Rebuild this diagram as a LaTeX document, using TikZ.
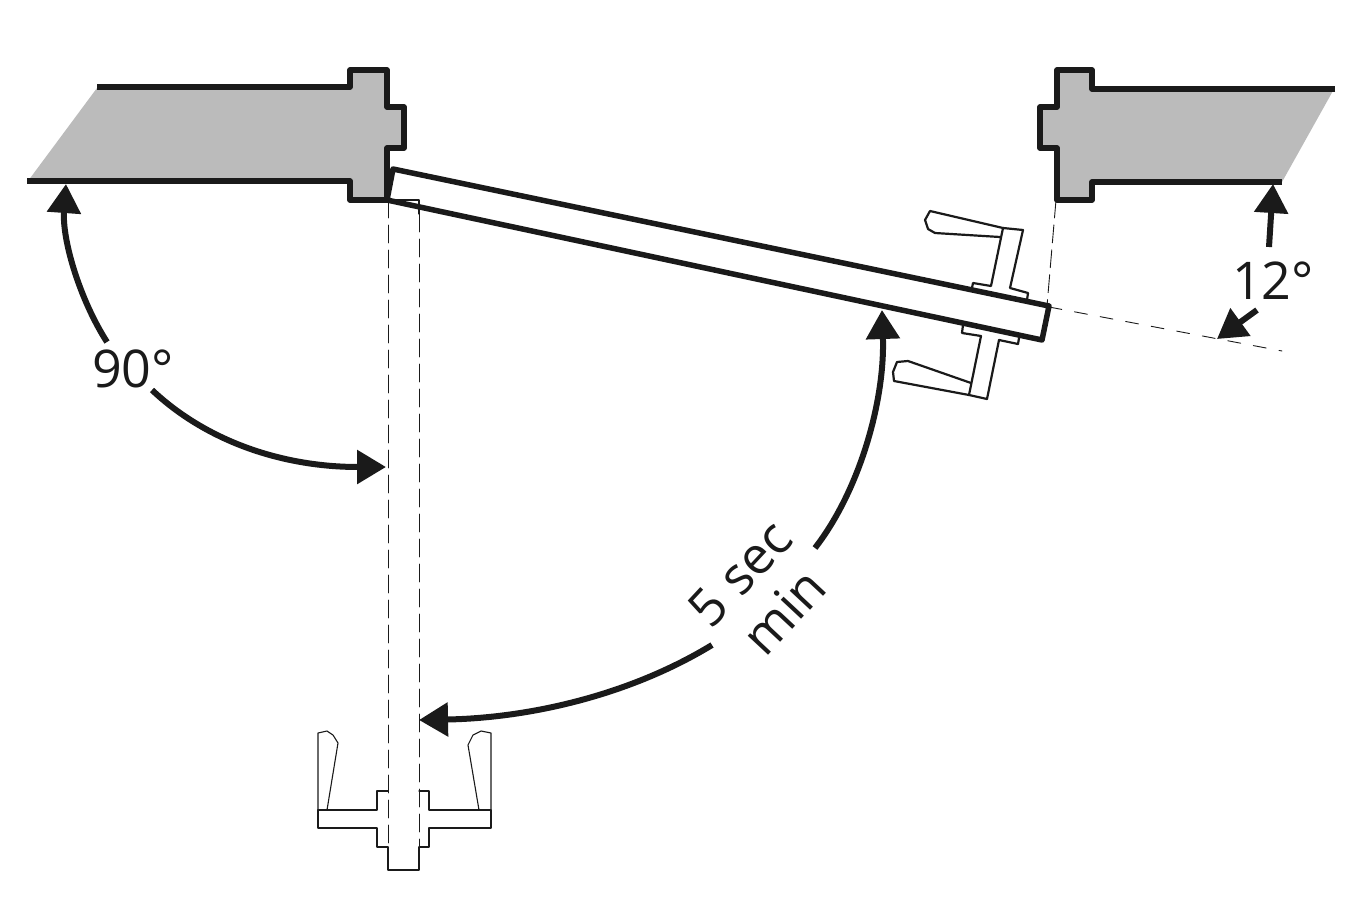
\documentclass[tikz,border=0pt]{standalone}
\usepackage{fontspec}
\setmainfont{Open Sans}
\usepackage{xcolor}
\usetikzlibrary{arrows.meta}
\definecolor{wall-grey}{HTML}{BBBBBB}
\definecolor{ink-black}{HTML}{1A1A1A}
\tikzset{
    wall/.style={line width=5.5pt, color=ink-black},
    leaf/.style={line width=5.5pt, color=ink-black},
    thinline/.style={line width=1.1pt, color=ink-black},
    handle/.style={line width=2.2pt, color=ink-black},
    ghost/.style={line width=0.9pt, color=ink-black, dash pattern=on 18pt off 7pt},
    ghostext/.style={line width=0.9pt, color=ink-black, dash pattern=on 13pt off 13pt},
    sweep/.style={line width=6pt, color=ink-black, line cap=butt, -{Triangle[length=29pt,width=33pt]}},
    lbl/.style={inner sep=0pt, color=ink-black, font=\fontsize{52}{56}\selectfont}
}
\begin{document}
\begin{tikzpicture}[x=1pt, y=-1pt, line cap=round, line join=round]
    % frame
    \useasboundingbox (0,0) rectangle (1350,900);

    % left wall
    \fill[wall-grey] (97,88) -- (350,88) -- (350,70) -- (387,70) -- (387,107) -- (404,107) -- (404,148) -- (387,148)
    -- (387,200) -- (350,200) -- (350,181) -- (28,181) -- cycle;
    \draw[wall, line cap=butt] (97,87) -- (350,87) -- (350,70) -- (387,70) -- (387,107) -- (404,107) -- (404,148) -- (387,148)
    -- (387,200) -- (350,200) -- (350,181) -- (27,181);

    % right wall
    \fill[wall-grey] (1334,89) -- (1092,89) -- (1092,70) -- (1057,70) -- (1057,107) -- (1040,107) -- (1040,148) -- (1057,148)
    -- (1057,200) -- (1092,200) -- (1092,182) -- (1282,182) -- cycle;
    \draw[wall, line cap=butt] (1335,89) -- (1092,89) -- (1092,70) -- (1057,70) -- (1057,107) -- (1040,107) -- (1040,148) -- (1057,148)
    -- (1057,200) -- (1092,200) -- (1092,182) -- (1282,182);

    % open door
    \draw[leaf] (393,169) -- (1049,306) -- (1042,340) -- (387,200) -- cycle;

    % handle on the open door
    \draw[handle] (972,288) -- (973,283) -- (991,286) -- (1003,228) -- (930,211) -- (925,220) -- (928,229) -- (935,233) -- (1000,237);
    \draw[handle] (1003,228) -- (1023,230) -- (1010,288) -- (1028,293) -- (1027,300);
    \draw[handle] (963,325) -- (962,333) -- (981,336) -- (969,395) -- (987,399) -- (999,340) -- (1018,344) -- (1019,338);
    \draw[handle] (971,383) -- (908,361) -- (897,362) -- (893,372) -- (894,381) -- (969,395);

    % closed door
    \draw[ghost] (388,200) -- (388,847);
    \draw[ghost] (419,214) -- (419,847);
    \draw[thinline] (388,200) -- (419,200) -- (419,214);
    \draw[thinline] (388,847) -- (388,870) -- (419,870) -- (419,847);

    % handle on the closed door
    \draw[thinline] (388,791) -- (377,791) -- (377,810) -- (318,810) -- (318,828) -- (377,828) -- (377,847) -- (388,847);
    \draw[thinline] (419,791) -- (429,791) -- (429,810) -- (491,810) -- (491,828) -- (429,828) -- (429,847) -- (419,847);
    \draw[thinline] (318,810) -- (318,733) -- (327,731) -- (333,735) -- (338,743) -- (327,810);
    \draw[thinline] (491,810) -- (491,733) -- (481,731) -- (473,735) -- (468,745) -- (479,810);

    % extension lines
    \draw[ghost] (1056,200) -- (1047,306);
    \draw[ghostext] (1049,307) -- (1282,351);

    % labels
    \node[lbl] (label90) at (133,369) {90°};
    \node[lbl] (label12) at (1273,281) {12°};
    \node[lbl, rotate=47] (label5sec) at (740,573) {5 sec};
    \node[lbl, rotate=47] (labelmin) at (783,611) {min};

    % free ends
    \coordinate (wallleft) at (66,184);
    \coordinate (closedmid) at (386,467);
    \coordinate (leafmid) at (882,310);
    \coordinate (closedlow) at (419,720);
    \coordinate (wallright) at (1273,184);
    \coordinate (leafext) at (1217,339);

    % sweeps
    \draw[sweep] (107,342) .. controls (80,300) and (62,240) .. (wallleft);
    \draw[sweep] (152,390) .. controls (205,440) and (280,467) .. (closedmid);
    \draw[sweep] (815,548) .. controls (860,490) and (885,400) .. (leafmid);
    \draw[sweep] (712,645) .. controls (630,695) and (530,718) .. (closedlow);
    \draw[sweep] (1269,247) -- (wallright);
    \draw[sweep] (1257,310) -- (leafext);
\end{tikzpicture}
\end{document}
